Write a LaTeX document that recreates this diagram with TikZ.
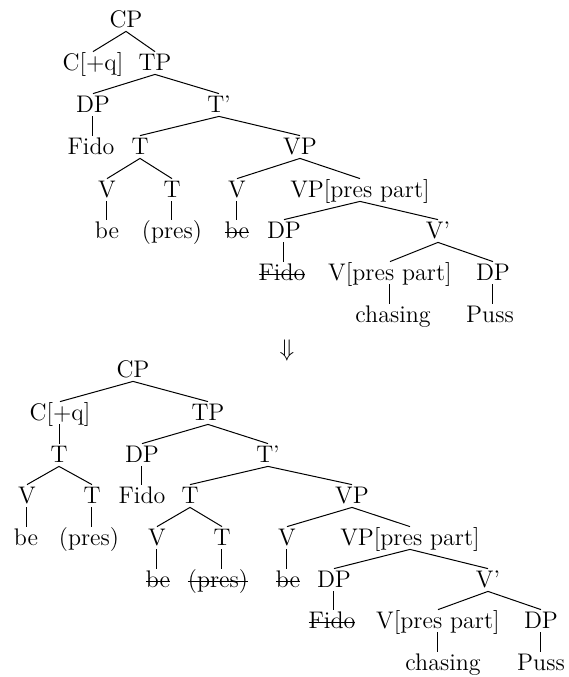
\documentclass[tikz,border=0pt]{standalone}
\usepackage{tikz}
\newcommand{\strk}[1]{\setbox0=\hbox{#1}\rlap{\rule[0.5ex]{\wd0}{0.5pt}}\box0}

\begin{document}
\begin{tikzpicture}[
  x=0.5pt, y=-0.5pt,
  cat/.style={anchor=base, inner xsep=0pt, inner ysep=0.5pt,
              text height=8.5pt, text depth=1.5pt,
              font=\fontsize{12}{14}\selectfont},
  br/.style={line width=0.5pt}
]
\useasboundingbox (0,0) rectangle (569,677);
% first tree
\node[cat] (aCP)      at (126,27)  {CP};
\node[cat] (aCq)      at (93,70)   {C[+q]};
\node[cat] (aTP)      at (155,70)  {TP};
\node[cat] (aDP)      at (93,112)  {DP};
\node[cat] (aTb)      at (219,112) {T'};
\node[cat] (aFido)    at (91,154)  {Fido};
\node[cat] (aT)       at (140,154) {T};
\node[cat] (aVP)      at (300,154) {VP};
\node[cat] (aTV)      at (107,197) {V};
\node[cat] (aTT)      at (172,197) {T};
\node[cat] (aVPV)     at (237,197) {V};
\node[cat] (aVPp)     at (360,197) {VP[pres part]};
\node[cat] (abe)      at (107,238) {be};
\node[cat] (apres)    at (172,238) {(pres)};
\node[cat] (abex)     at (237,238) {\strk{be}};
\node[cat] (aDPs)     at (284,238) {DP};
\node[cat] (aVb)      at (438,238) {V'};
\node[cat] (aFidox)   at (282,280) {\strk{Fido}};
\node[cat] (aVpp)     at (390,280) {V[pres part]};
\node[cat] (aDPo)     at (493,280) {DP};
\node[cat] (achasing) at (393,322) {chasing};
\node[cat] (aPuss)    at (490,322) {Puss};
\draw[br] (aCq.north) -- (aCP.south) -- (aTP.north);
\draw[br] (aDP.north) -- (aTP.south) -- (aTb.north);
\draw[br] (aDP.south) -- (aDP.south |- aFido.north);
\draw[br] (aT.north) -- (aTb.south) -- (aVP.north);
\draw[br] (aTV.north) -- (aT.south) -- (aTT.north);
\draw[br] (aVPV.north) -- (aVP.south) -- (aVPp.north);
\draw[br] (aTV.south) -- (aTV.south |- abe.north);
\draw[br] (aTT.south) -- (aTT.south |- apres.north);
\draw[br] (aVPV.south) -- (aVPV.south |- abex.north);
\draw[br] (aDPs.north) -- (aVPp.south) -- (aVb.north);
\draw[br] (aDPs.south) -- (aDPs.south |- aFidox.north);
\draw[br] (aVpp.north) -- (aVb.south) -- (aDPo.north);
\draw[br] (aVpp.south) -- (aVpp.south |- achasing.north);
\draw[br] (aDPo.south) -- (aDPo.south |- aPuss.north);
% arrow between the trees
\node[font=\fontsize{12}{14}\selectfont] (darr) at (287,350) {$\Downarrow$};
% second tree
\node[cat] (bCP)      at (133,377) {CP};
\node[cat] (bCq)      at (60,420)  {C[+q]};
\node[cat] (bTP)      at (208,420) {TP};
\node[cat] (bTc)      at (59,462)  {T};
\node[cat] (bDP)      at (142,462) {DP};
\node[cat] (bTb)      at (268,462) {T'};
\node[cat] (bTV)      at (27,503)  {V};
\node[cat] (bTT)      at (92,503)  {T};
\node[cat] (bFido)    at (142,503) {Fido};
\node[cat] (bT)       at (190,503) {T};
\node[cat] (bVP)      at (352,503) {VP};
\node[cat] (bbe)      at (26,545)  {be};
\node[cat] (bpres)    at (89,545)  {(pres)};
\node[cat] (bTVx)     at (157,545) {V};
\node[cat] (bTTx)     at (222,545) {T};
\node[cat] (bVPV)     at (287,545) {V};
\node[cat] (bVPp)     at (410,545) {VP[pres part]};
\node[cat] (bbex)     at (158,587) {\strk{be}};
\node[cat] (bpresx)   at (218,587) {\strk{(pres)}};
\node[cat] (bbey)     at (288,587) {\strk{be}};
\node[cat] (bDPs)     at (334,587) {DP};
\node[cat] (bVb)      at (488,587) {V'};
\node[cat] (bFidox)   at (332,628) {\strk{Fido}};
\node[cat] (bVpp)     at (438,628) {V[pres part]};
\node[cat] (bDPo)     at (541,628) {DP};
\node[cat] (bchasing) at (443,670) {chasing};
\node[cat] (bPuss)    at (541,670) {Puss};
\draw[br] (bCq.north) -- (bCP.south) -- (bTP.north);
\draw[br] (bCq.south) -- (bCq.south |- bTc.north);
\draw[br] (bDP.north) -- (bTP.south) -- (bTb.north);
\draw[br] (bTV.north) -- (bTc.south) -- (bTT.north);
\draw[br] (bDP.south) -- (bDP.south |- bFido.north);
\draw[br] (bT.north) -- (bTb.south) -- (bVP.north);
\draw[br] (bTV.south) -- (bTV.south |- bbe.north);
\draw[br] (bTT.south) -- (bTT.south |- bpres.north);
\draw[br] (bTVx.north) -- (bT.south) -- (bTTx.north);
\draw[br] (bVPV.north) -- (bVP.south) -- (bVPp.north);
\draw[br] (bTVx.south) -- (bTVx.south |- bbex.north);
\draw[br] (bTTx.south) -- (bTTx.south |- bpresx.north);
\draw[br] (bVPV.south) -- (bVPV.south |- bbey.north);
\draw[br] (bDPs.north) -- (bVPp.south) -- (bVb.north);
\draw[br] (bDPs.south) -- (bDPs.south |- bFidox.north);
\draw[br] (bVpp.north) -- (bVb.south) -- (bDPo.north);
\draw[br] (bVpp.south) -- (bVpp.south |- bchasing.north);
\draw[br] (bDPo.south) -- (bDPo.south |- bPuss.north);
\end{tikzpicture}
\end{document}
